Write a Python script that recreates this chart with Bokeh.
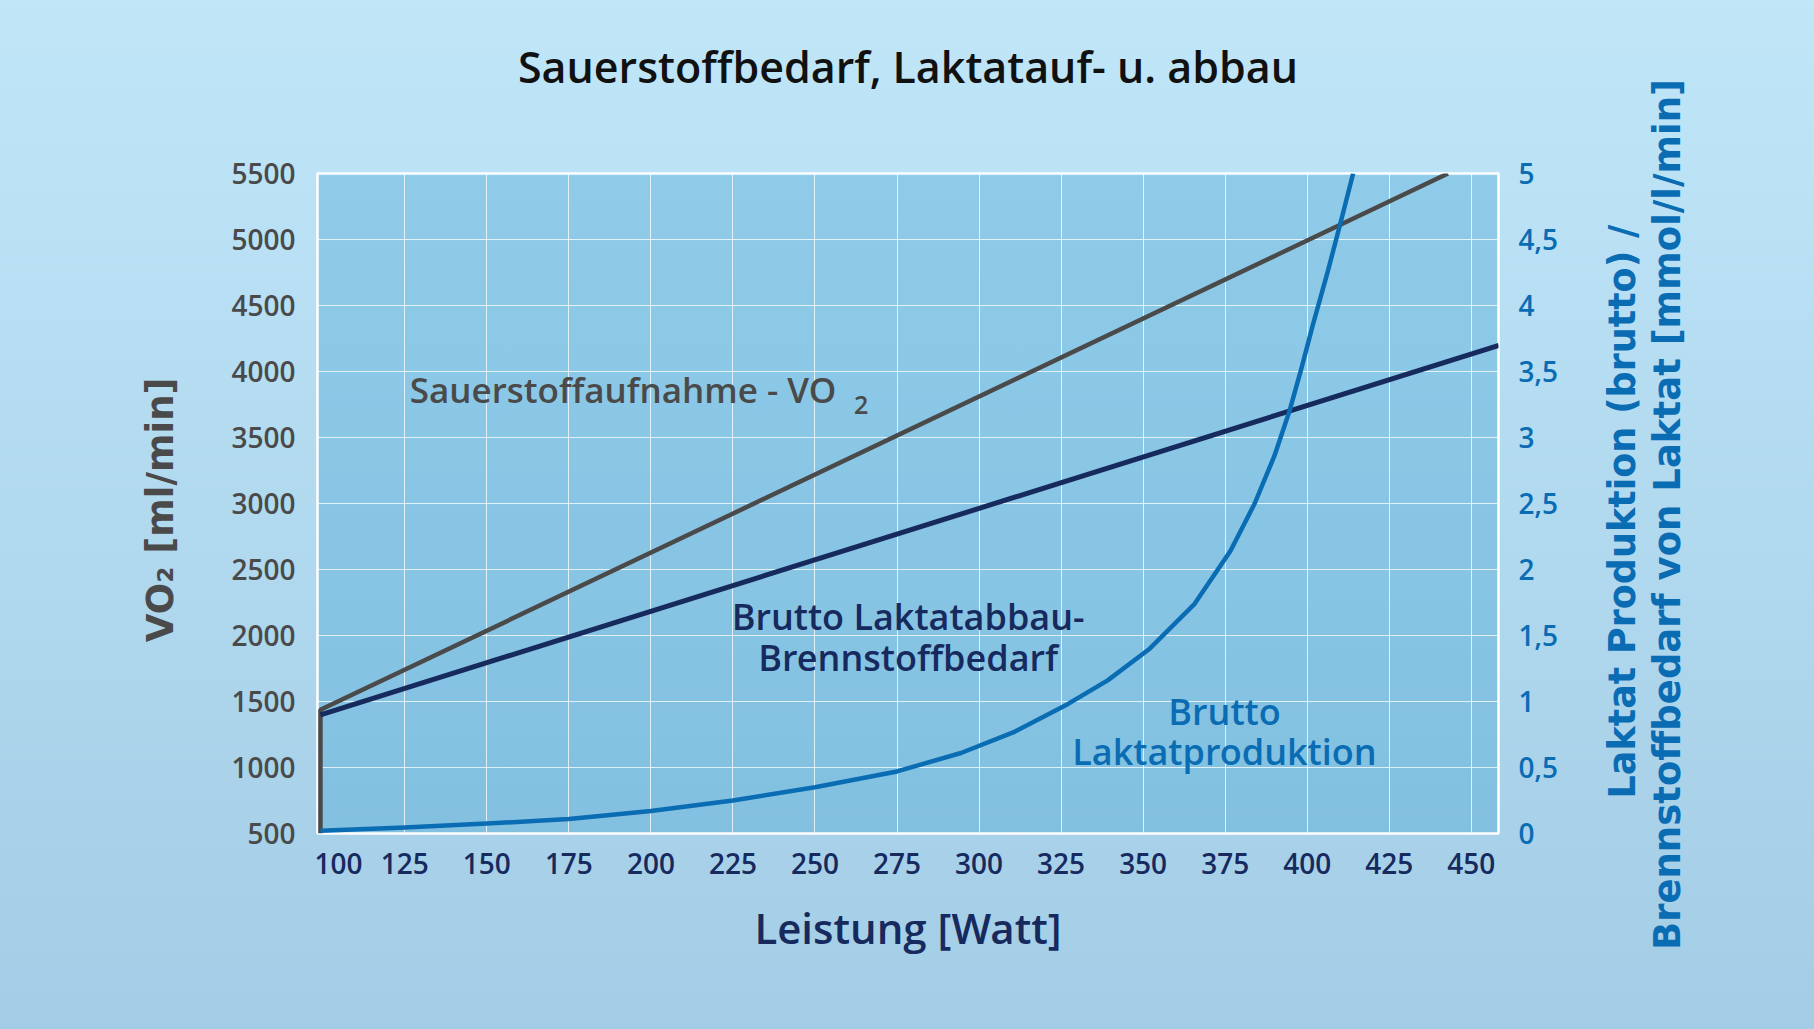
import math
from bokeh.plotting import figure
from bokeh.layouts import row
from bokeh.models import Range1d, LinearAxis, FixedTicker, CustomJSTickFormatter
from bokeh.core.properties import value
from bokeh.embed import file_html
from bokeh.resources import INLINE

# ---------------- data ----------------
watt_ticks = [100, 125, 150, 175, 200, 225, 250, 275, 300, 325, 350, 375, 400, 425, 450]
vo2_ticks = [500, 1000, 1500, 2000, 2500, 3000, 3500, 4000, 4500, 5000, 5500]
lac_ticks = [0, 0.5, 1, 1.5, 2, 2.5, 3, 3.5, 4, 4.5, 5]

# Sauerstoffaufnahme - VO2 [ml/min]
watt_vo2 = [99.3, 99.3, 442.9]
vo2 = [500, 1437, 5500]

# Brutto Laktatabbau - Brennstoffbedarf [ml/min]
watt_abbau = [99.3, 458.4]
abbau = [1399, 4197]

# Brutto Laktatproduktion [mmol/l/min]
watt_lac = [99.3, 125, 150, 175, 200, 225, 250, 275, 294.5, 310.8, 327, 339.2, 352, 365.7,
            376.6, 384, 390, 394.6, 398.2, 401.7, 406.3, 410.4, 414]
lac = [0.02, 0.045, 0.075, 0.11, 0.17, 0.25, 0.35, 0.47, 0.61, 0.77, 0.98, 1.16, 1.40, 1.74,
       2.14, 2.5, 2.86, 3.2, 3.52, 3.85, 4.26, 4.65, 5.0]

GREY = "#4a4a4a"
NAVY = "#172a5e"
BLUE = "#0a6cb3"
SEMI = "'Open Sans SemiBold', 'Open Sans'"
AXFONT = "DejaVu Sans"

MAIN_W, SIDE_W, H = 1590, 208, 1013

p = figure(width=MAIN_W, height=H, output_backend="svg", toolbar_location=None,
           x_range=Range1d(98.4, 458.3), y_range=Range1d(500, 5500),
           min_border_left=317, min_border_right=92, min_border_top=173, min_border_bottom=180)
p.extra_y_ranges = {"lac": Range1d(0, 5)}

p.border_fill_color = None
p.background_fill_color = "#2c99cd"
p.background_fill_alpha = 0.3
p.outline_line_color = "white"
p.outline_line_width = 2.5

try:
    from bokeh.models import GlobalInlineStyleSheet
    p.stylesheets = [GlobalInlineStyleSheet(css="html{height:100%;background:linear-gradient(180deg,#c0e6f8 0%,#a3cde6 100%) no-repeat;} body{background:transparent;}")]
except Exception:
    p.styles = {"background": "linear-gradient(180deg,#c0e6f8 0%,#a3cde6 100%)"}

# grid
p.xgrid.ticker = FixedTicker(ticks=watt_ticks[1:])
p.ygrid.ticker = FixedTicker(ticks=vo2_ticks[1:-1])
for g in (p.xgrid, p.ygrid):
    g.grid_line_color = "white"
    g.grid_line_alpha = 0.75
    g.grid_line_width = 1


def plain(ax):
    ax.axis_line_color = None
    ax.major_tick_line_color = None
    ax.minor_tick_line_color = None
    ax.major_tick_out = 0
    ax.major_tick_in = 0
    ax.minor_tick_out = 0
    ax.minor_tick_in = 0


# bottom axis
xa = p.xaxis[0]
xa.ticker = FixedTicker(ticks=watt_ticks)
xa.major_label_overrides = {100: "\u2007\u2007100"}
xa.axis_label = "Leistung [Watt]"
xa.axis_label_text_font = SEMI
xa.axis_label_text_font_size = "42px"
xa.axis_label_text_font_style = "normal"
xa.axis_label_text_color = NAVY
xa.axis_label_standoff = 14
xa.major_label_text_font = SEMI
xa.major_label_text_font_size = "28px"
xa.major_label_text_color = NAVY
xa.major_label_standoff = 10
plain(xa)

# left axis
ya = p.yaxis[0]
ya.ticker = FixedTicker(ticks=vo2_ticks)
ya.major_label_text_font = SEMI
ya.major_label_text_font_size = "28px"
ya.major_label_text_color = GREY
ya.major_label_standoff = 22
ya.axis_label = "VO\u2082  [ml/min]"
ya.axis_label_text_font = AXFONT
ya.axis_label_text_font_size = "37px"
ya.axis_label_text_font_style = "bold"
ya.axis_label_text_color = GREY
ya.axis_label_standoff = 47
plain(ya)

# right axis (lactate)
ra = LinearAxis(y_range_name="lac", ticker=FixedTicker(ticks=lac_ticks),
                formatter=CustomJSTickFormatter(code="return tick.toString().replace('.', ',');"))
ra.major_label_text_font = SEMI
ra.major_label_text_font_size = "28px"
ra.major_label_text_color = BLUE
ra.major_label_standoff = 20
plain(ra)
p.add_layout(ra, "right")

# title as label of an empty axis above the frame
ta = LinearAxis(ticker=FixedTicker(ticks=[]))
ta.major_label_standoff = 0
ta.axis_label = "Sauerstoffbedarf, Laktatauf- u. abbau"
ta.axis_label_text_font = SEMI
ta.axis_label_text_font_size = "43px"
ta.axis_label_text_font_style = "normal"
ta.axis_label_text_color = "#111111"
ta.axis_label_standoff = 78
plain(ta)
p.add_layout(ta, "above")

# lines
p.line(watt_vo2, vo2, line_color=GREY, line_width=4.5)
p.line(watt_abbau, abbau, line_color=NAVY, line_width=5)
p.line(watt_lac, lac, line_color=BLUE, line_width=4.5, line_join="round", y_range_name="lac")

# in-plot annotations
p.text(x=[126.5], y=[3863], text=["Sauerstoffaufnahme - VO"], text_font=value(SEMI),
       text_font_size="35px", text_color=GREY, text_align="left", text_baseline="alphabetic")
p.text(x=[261.9], y=[3750], text=["2"], text_font=value(SEMI),
       text_font_size="25px", text_color=GREY, text_align="left", text_baseline="alphabetic")
p.text(x=[278.4, 278.4], y=[2144, 1836], text=["Brutto Laktatabbau-", "Brennstoffbedarf"],
       text_font=value(SEMI), text_font_size="36px", text_color=NAVY,
       text_align="center", text_baseline="alphabetic")
p.text(x=[374.8, 374.8], y=[1424, 1121], text=["Brutto", "Laktatproduktion"],
       text_font=value(SEMI), text_font_size="36px", text_color=BLUE,
       text_align="center", text_baseline="alphabetic")

# side panel holding the two-line right axis title (pixel coordinates of the page)
side = figure(width=SIDE_W, height=H, output_backend="svg", toolbar_location=None,
              x_range=Range1d(MAIN_W, MAIN_W + SIDE_W), y_range=Range1d(0, H),
              x_axis_type=None, y_axis_type=None,
              min_border_left=0, min_border_right=0, min_border_top=0, min_border_bottom=0)
try:
    side.frame_align = False
except Exception:
    pass
side.border_fill_color = None
side.background_fill_color = None
side.outline_line_color = None
side.xgrid.visible = False
side.ygrid.visible = False
side.text(x=[1622], y=[H - 511], text=["Laktat Produktion (brutto) /"],
          angle=math.pi / 2, text_font=value(AXFONT), text_font_size="36.5px",
          text_font_style="bold", text_color=BLUE, text_align="center", text_baseline="middle")
side.text(x=[1667], y=[H - 514], text=["Brennstoffbedarf von Laktat [mmol/l/min]"],
          angle=math.pi / 2, text_font=value(AXFONT), text_font_size="37px",
          text_font_style="bold", text_color=BLUE, text_align="center", text_baseline="middle")

p = row(p, side)

open("out.html", "w").write(file_html(p, INLINE))
